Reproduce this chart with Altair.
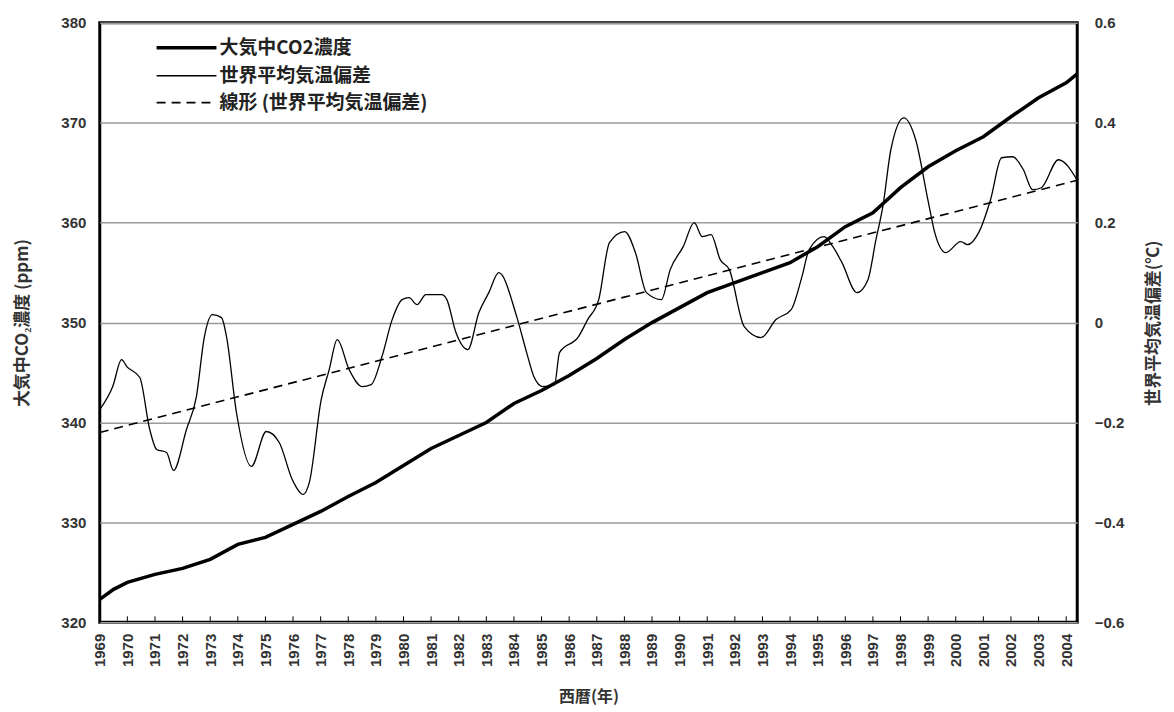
import altair as alt
import pandas as pd

# ---------------- data ----------------
co2_year = [1969.0, 1969.5, 1970, 1971, 1972, 1973, 1974, 1975, 1976, 1977, 1978, 1979,
            1980, 1981, 1982, 1983, 1984, 1985, 1986, 1987, 1988, 1989, 1990, 1991,
            1992, 1993, 1994, 1995, 1996, 1997, 1998, 1999, 2000, 2001, 2002, 2003,
            2004, 2004.4]
co2_ppm = [322.3, 323.3, 324.0, 324.8, 325.4, 326.3, 327.8, 328.5, 329.8, 331.1, 332.6, 334.0,
           335.7, 337.4, 338.7, 340.0, 341.9, 343.2, 344.7, 346.4, 348.3, 350.0, 351.5, 353.0,
           354.0, 355.0, 356.0, 357.6, 359.6, 361.0, 363.5, 365.6, 367.2, 368.6, 370.6, 372.5,
           374.0, 374.9]

temp_year = [1969.00, 1969.47, 1969.79, 1969.98, 1970.45, 1970.81, 1971.06, 1971.42, 1971.67,
             1972.14, 1972.50, 1972.79, 1973.08, 1973.41, 1973.59, 1973.95, 1974.49, 1975.03,
             1975.50, 1975.97, 1976.37, 1976.59, 1977.02, 1977.31, 1977.60, 1978.03, 1978.50,
             1978.83, 1979.22, 1979.59, 1979.95, 1980.20, 1980.49, 1980.81, 1981.39, 1981.57,
             1981.90, 1982.33, 1982.73, 1983.09, 1983.45, 1984.10, 1984.46, 1984.72, 1985.04,
             1985.47, 1985.65, 1986.34, 1986.67, 1987.07, 1987.46, 1988.01, 1988.40, 1988.80,
             1989.34, 1989.66, 1990.13, 1990.53, 1990.82, 1991.14, 1991.47, 1991.80, 1992.34,
             1992.95, 1993.49, 1994.04, 1994.43, 1994.69, 1995.23, 1995.55, 1995.88, 1996.42,
             1996.82, 1997.11, 1997.36, 1997.65, 1998.12, 1998.55, 1998.99, 1999.24, 1999.64,
             2000.18, 2000.43, 2000.83, 2001.26, 2001.66, 2002.06, 2002.45, 2002.78, 2003.10,
             2003.72, 2004.40]
temp_anom = [-0.174, -0.128, -0.074, -0.088, -0.110, -0.214, -0.254, -0.260, -0.296,
             -0.214, -0.148, -0.028, 0.016, 0.010, -0.028, -0.180, -0.288, -0.218,
             -0.240, -0.314, -0.344, -0.320, -0.154, -0.094, -0.034, -0.094, -0.128,
             -0.124, -0.068, 0.006, 0.046, 0.050, 0.036, 0.056, 0.056, 0.046,
             -0.020, -0.054, 0.020, 0.060, 0.100, 0.012, -0.060, -0.108, -0.128,
             -0.124, -0.060, -0.028, 0.006, 0.046, 0.160, 0.182, 0.140, 0.060,
             0.046, 0.106, 0.152, 0.200, 0.172, 0.176, 0.126, 0.106, -0.008,
             -0.030, 0.006, 0.026, 0.092, 0.146, 0.172, 0.152, 0.120, 0.060,
             0.086, 0.166, 0.232, 0.346, 0.410, 0.366, 0.246, 0.180, 0.140,
             0.162, 0.156, 0.180, 0.246, 0.330, 0.332, 0.306, 0.266, 0.270,
             0.326, 0.285]

trend_year = [1969.0, 2004.4]
trend_anom = [-0.22, 0.285]

tick_years = list(range(1969, 2005))
co2_ticks = [320, 330, 340, 350, 360, 370, 380]
temp_ticks = [-0.6, -0.4, -0.2, 0, 0.2, 0.4, 0.6]
legend_labels = ["大気中CO2濃度", "世界平均気温偏差", "線形 (世界平均気温偏差)"]

# ---------------- styling ----------------
W, H = 980, 601
NUM_FONT = "Liberation Sans"
JP_FONT = "Noto Sans CJK JP"
TXT = "#333333"

co2_df = pd.DataFrame({"year": co2_year, "ppm": co2_ppm})
temp_df = pd.DataFrame({"year": temp_year, "anom": temp_anom})
trend_df = pd.DataFrame({"year": trend_year, "anom": trend_anom})
tick_df = pd.DataFrame({"year": tick_years})

x_enc = alt.X(
    "year:Q",
    scale=alt.Scale(domain=[1969, 2004.4], nice=False, zero=False),
    axis=alt.Axis(
        values=tick_years, format="d", labelAngle=270, title="西暦(年)",
        grid=False, domain=False, ticks=False, labelPadding=11,
        labelFont=NUM_FONT, labelFontSize=15, labelFontWeight="bold", labelColor=TXT,
        titleFont=JP_FONT, titleFontSize=16, titleFontWeight="bold", titleColor=TXT,
        titlePadding=22, labelOverlap=False, labelFlush=False,
    ),
)

co2_line = alt.Chart(co2_df).mark_line(color="black", strokeWidth=3.5).encode(
    x=x_enc,
    y=alt.Y(
        "ppm:Q",
        scale=alt.Scale(domain=[320, 380], nice=False, zero=False),
        axis=alt.Axis(
            orient="left", values=co2_ticks, title="大気中CO₂濃度 (ppm)",
            grid=True, gridColor="#9a9a9a", gridWidth=1.5, domain=False, ticks=False,
            labelPadding=14, labelFont=NUM_FONT, labelFontSize=15, labelFontWeight="bold",
            labelColor=TXT, titleFont=JP_FONT, titleFontSize=17, titleFontWeight="bold",
            titleColor=TXT, titlePadding=29,
        ),
    ),
)

inner_ticks = alt.Chart(tick_df).mark_rule(color="black", strokeWidth=1).encode(
    x=x_enc, y=alt.value(H - 6), y2=alt.value(H)
)

temp_line = alt.Chart(temp_df).mark_line(
    color="black", strokeWidth=1.3, interpolate="monotone"
).encode(
    x=x_enc,
    y=alt.Y(
        "anom:Q",
        scale=alt.Scale(domain=[-0.6, 0.6], nice=False, zero=False),
        axis=alt.Axis(
            orient="right", values=temp_ticks, format=".1~f", title="世界平均気温偏差(℃)",
            grid=False, domain=False, ticks=False, labelPadding=17,
            labelFont=NUM_FONT, labelFontSize=15, labelFontWeight="bold", labelColor=TXT,
            titleFont=JP_FONT, titleFontSize=17, titleFontWeight="bold", titleColor=TXT,
            titleAngle=270, titleBaseline="top", titlePadding=22,
        ),
    ),
)

trend_line = alt.Chart(trend_df).mark_line(
    color="black", strokeWidth=1.6, strokeDash=[9, 6]
).encode(x=x_enc, y=alt.Y("anom:Q"))

# ---------------- legend (inside, top-left) ----------------
leg_rows = [25, 53, 80]
leg_widths = [3.5, 1.3, 1.6]
leg_dash = [[1, 0], [1, 0], [9, 6]]
legend_layers = []
for i, lab in enumerate(legend_labels):
    ldf = pd.DataFrame({"label": [lab]})
    legend_layers.append(
        alt.Chart(ldf).mark_rule(color="black", strokeWidth=leg_widths[i], strokeDash=leg_dash[i]).encode(
            x=alt.value(57), x2=alt.value(117), y=alt.value(leg_rows[i])
        )
    )
    legend_layers.append(
        alt.Chart(ldf).mark_text(
            align="left", baseline="middle", font=JP_FONT, fontSize=19,
            fontWeight="bold", color="#222222"
        ).encode(x=alt.value(120), y=alt.value(leg_rows[i]), text="label:N")
    )

left = alt.layer(co2_line, inner_ticks)
right = alt.layer(temp_line, trend_line)

chart = alt.layer(left, right, *legend_layers).resolve_scale(y="independent").properties(
    width=W, height=H,
    padding={"left": 5, "top": 7, "right": 4, "bottom": 3},
    background="white",
).configure_view(stroke="black", strokeWidth=3)

chart.save("out.html", embed_options={"renderer": "svg", "actions": False})
